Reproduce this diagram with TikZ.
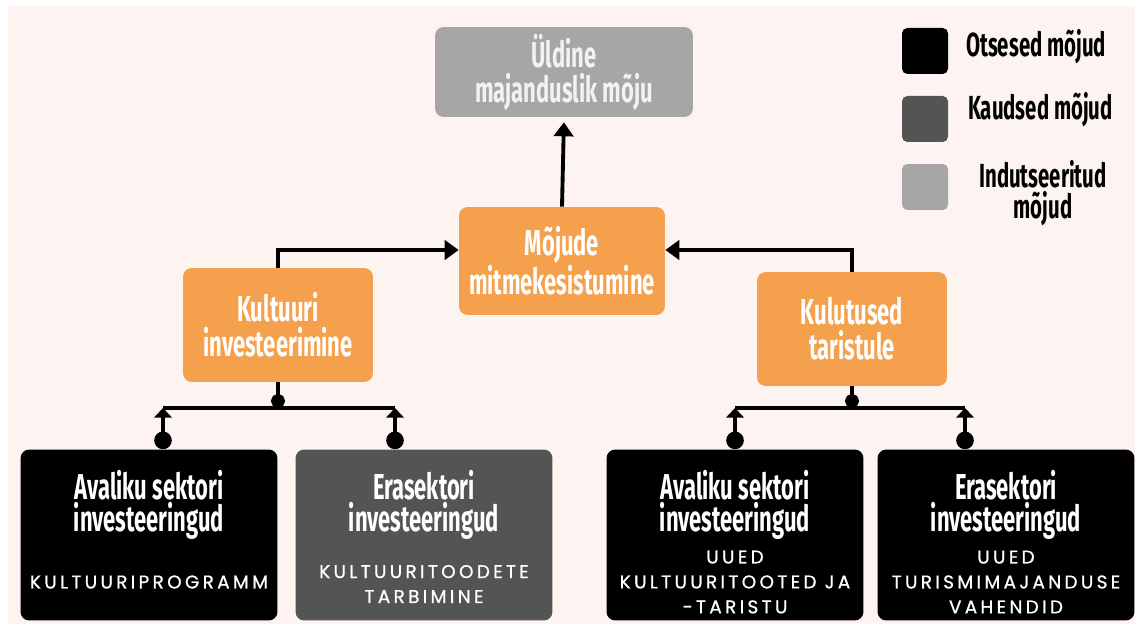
\documentclass[tikz,border=0pt]{standalone}
\usepackage{fontspec}
\usetikzlibrary{arrows.meta}
\newfontfamily\headfont[FakeStretch=0.61]{Fira Sans}
\newfontfamily\capsfont[LetterSpace=18,FakeBold=0.8]{Poppins}
\definecolor{bgpink}{HTML}{FDF4F2}
\definecolor{boxorange}{HTML}{F4A04C}
\definecolor{darkgrey}{HTML}{545454}
\definecolor{lightgrey}{HTML}{A6A6A6}

\tikzset{
  orangebox/.style={fill=boxorange, rounded corners=5pt, minimum width=3.8cm, minimum height=2.28cm,
    align=center, text=white, font=\headfont\bfseries\fontsize{20.5}{20}\selectfont},
  greybox/.style={fill=lightgrey, rounded corners=5pt, minimum width=5.16cm, minimum height=1.8cm,
    align=center, text=white!95!black, font=\headfont\bfseries\fontsize{20.5}{20}\selectfont},
  bottombox/.style={rounded corners=5pt, minimum width=5.14cm, minimum height=3.42cm},
  bottomtitle/.style={align=center, text=white, font=\headfont\bfseries\fontsize{20.5}{18}\selectfont},
  captext/.style={align=center, text=white, font=\capsfont\fontsize{10.5}{14.2}\selectfont},
  legendbox/.style={rounded corners=3pt, minimum size=0.92cm},
  legendtext/.style={align=center, font=\headfont\bfseries\fontsize{19}{18}\selectfont},
  conn/.style={draw, line width=2.2pt, -{Triangle[length=8pt,width=11pt]}},
  bar/.style={draw, line width=2.2pt},
  stemdot/.style={draw, line width=2.2pt, -{Circle[length=8pt]}},
  upconn/.style={draw, line width=2.2pt, {Circle[length=10pt]}-{Triangle[length=5.5pt,width=10pt]}}
}

\begin{document}
\begin{tikzpicture}[x=0.02cm, y=-0.02cm]
    % background
    \fill[white] (0,0) rectangle (1135,624);
    \fill[bgpink] (8,6) rectangle (1135,624);
    \useasboundingbox (0,0) rectangle (1135,624);

    % top and middle boxes
    \node[greybox] (yldine) at (564,72) {Üldine\\majanduslik mõju};
    \node[orangebox, minimum width=4.12cm, minimum height=2.16cm,
          font=\headfont\bfseries\fontsize{20.5}{18.5}\selectfont] (mojude) at (562,261) {Mõjude\\mitmekesistumine};
    \node[orangebox] (kultuur) at (278,325) {Kultuuri\\investeerimine};
    \node[orangebox] (kulutus) at (852,329) {Kulutused\\taristule};

    % bottom boxes with their titles
    \foreach \pos/\name/\col/\first in {149/avkult/black/Avaliku sektori, 424/erakult/darkgrey/Erasektori,
                                         735/avtar/black/Avaliku sektori, 1006/eratar/black/Erasektori}
    {
        \node[bottombox, fill=\col] (\name) at (\pos,535) {};
        \node[bottomtitle] (\name-t) at (\pos,505) {\first\\investeeringud};
    }
    \node[captext] (avkult-s) at (149,582) {KULTUURIPROGRAMM};
    \node[captext] (erakult-s) at (424,584) {KULTUURITOODETE\\TARBIMINE};
    \node[captext] (avtar-s) at (735,582) {UUED\\KULTUURITOOTED JA\\-TARISTU};
    \node[captext] (eratar-s) at (1006,582) {UUED\\TURISMIMAJANDUSE\\VAHENDID};

    % legend
    \foreach \y/\name/\col in {51/otsesed/black, 119/kaudsed/darkgrey, 187/indutseeritud/lightgrey}
        \node[legendbox, fill=\col] (\name) at (925,\y) {};
    \node[legendtext, anchor=west] (otsesed-t) at (960,47) {Otsesed mõjud};
    \node[legendtext, anchor=west] (kaudsed-t) at (962,110) {Kaudsed mõjud};
    \node[legendtext] (indutseeritud-t) at (1043,193) {Indutseeritud\\mõjud};

    % arrows between the upper boxes
    \draw[conn, shorten >=2.8pt] (mojude.north) -- (yldine.south);
    \draw[conn] (kultuur.north) |- (mojude.west |- 0,250);
    \draw[conn] (kulutus.north) |- (mojude.east |- 0,250);

    % branching bars to the bottom boxes
    \coordinate (barA) at (163,408);
    \coordinate (barB) at (395,408);
    \coordinate (barC) at (735,408);
    \coordinate (barD) at (965,408);
    \path[bar] (barA) -- (barB);
    \path[bar] (barC) -- (barD);
    \path[stemdot] (kultuur.south) -- (kultuur.south |- barA);
    \path[stemdot] (kulutus.south) -- (kulutus.south |- barC);
    \foreach \bname/\bend in {avkult/barA, erakult/barB, avtar/barC, eratar/barD}
        \path[upconn] (\bname.north -| \bend) -- (\bend);
\end{tikzpicture}
\end{document}
